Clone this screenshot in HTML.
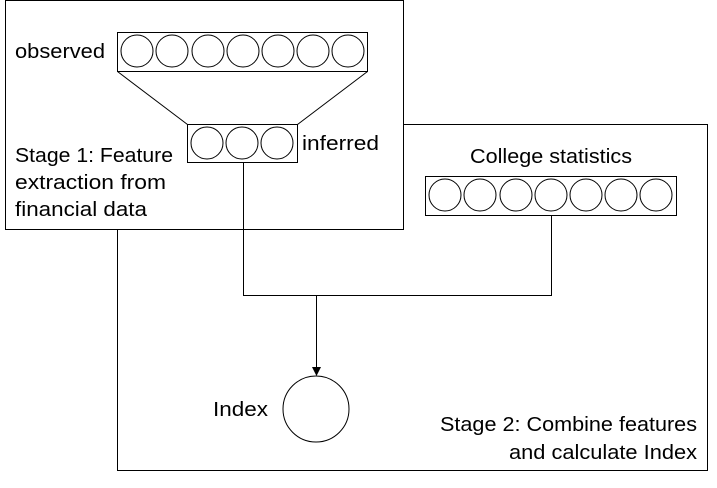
<!DOCTYPE html>
<html><head><meta charset="utf-8"><style>
body{margin:0;background:#fff}
svg text{font-family:"Liberation Sans",sans-serif;font-size:20px;fill:#000}
</style></head><body>
<svg width="717" height="483" viewBox="0 0 717 483">
<rect x="117.5" y="124.5" width="590" height="346" fill="#fff" stroke="#000"/>
<rect x="5.5" y="0.5" width="398" height="229" fill="#fff" stroke="#000"/>
<g>
<rect x="117.5" y="32.5" width="250" height="39" fill="#fff" stroke="#000"/>
<circle cx="137" cy="51" r="16" fill="#fff" stroke="#000"/>
<circle cx="172" cy="51" r="16" fill="#fff" stroke="#000"/>
<circle cx="208" cy="51" r="16" fill="#fff" stroke="#000"/>
<circle cx="243" cy="51" r="16" fill="#fff" stroke="#000"/>
<circle cx="278" cy="51" r="16" fill="#fff" stroke="#000"/>
<circle cx="313" cy="51" r="16" fill="#fff" stroke="#000"/>
<circle cx="348" cy="51" r="16" fill="#fff" stroke="#000"/>
</g>
<path d="M117.5 71.5L187.5 124.5M367.5 71.5L297.5 124.5" stroke="#000" fill="none"/>
<g>
<rect x="187.5" y="124.5" width="110" height="38" fill="#fff" stroke="#000"/>
<circle cx="207" cy="143" r="16" fill="#fff" stroke="#000"/>
<circle cx="242" cy="143" r="16" fill="#fff" stroke="#000"/>
<circle cx="277" cy="143" r="16" fill="#fff" stroke="#000"/>
</g>
<g>
<rect x="425.5" y="176.5" width="251" height="39" fill="#fff" stroke="#000"/>
<circle cx="445" cy="195" r="16" fill="#fff" stroke="#000"/>
<circle cx="480" cy="195" r="16" fill="#fff" stroke="#000"/>
<circle cx="516" cy="195" r="16" fill="#fff" stroke="#000"/>
<circle cx="551" cy="195" r="16" fill="#fff" stroke="#000"/>
<circle cx="586" cy="195" r="16" fill="#fff" stroke="#000"/>
<circle cx="621" cy="195" r="16" fill="#fff" stroke="#000"/>
<circle cx="656" cy="195" r="16" fill="#fff" stroke="#000"/>
</g>
<path d="M243.5 162V295.5H551.5V215M316.5 295V368" stroke="#000" fill="none"/>
<path d="M312 367L316.5 376L321 367Z" fill="#000"/>
<circle cx="316" cy="409" r="33" fill="#fff" stroke="#000"/>
<text x="15" y="58" textLength="90" lengthAdjust="spacingAndGlyphs">observed</text>
<text x="302" y="150" textLength="77" lengthAdjust="spacingAndGlyphs">inferred</text>
<text x="15" y="162" textLength="158" lengthAdjust="spacingAndGlyphs">Stage 1: Feature</text>
<text x="15" y="189" textLength="151" lengthAdjust="spacingAndGlyphs">extraction from</text>
<text x="15" y="216" textLength="132" lengthAdjust="spacingAndGlyphs">financial data</text>
<text x="470" y="163" textLength="162" lengthAdjust="spacingAndGlyphs">College statistics</text>
<text x="213" y="416" textLength="55" lengthAdjust="spacingAndGlyphs">Index</text>
<text x="440" y="431" textLength="257" lengthAdjust="spacingAndGlyphs">Stage 2: Combine features</text>
<text x="509" y="459" textLength="188" lengthAdjust="spacingAndGlyphs">and calculate Index</text>
</svg>
</body></html>
